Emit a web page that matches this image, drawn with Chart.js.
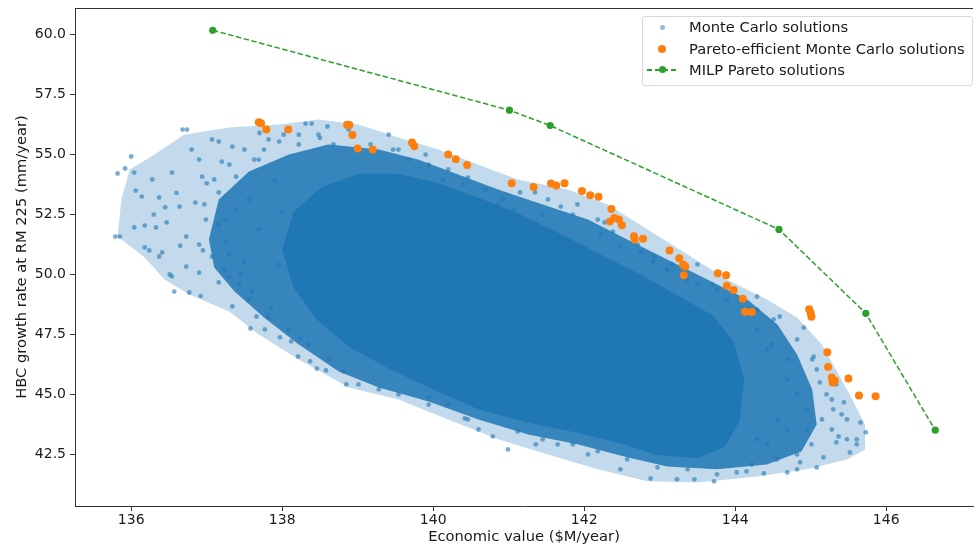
<!DOCTYPE html>
<html>
<head>
<meta charset="utf-8">
<script src="https://cdn.jsdelivr.net/npm/chart.js@4.4.1/dist/chart.umd.min.js"></script>
<style>
  html, body { margin: 0; padding: 0; background: #fff; overflow: hidden; }
  #wrap { position: relative; width: 977px; height: 549px; }
  #legend {
    position: absolute; left: 642px; top: 16px; width: 329px; height: 68px;
    border: 1px solid #d9d9d9; border-radius: 3px; background: rgba(255,255,255,0.8);
    font-family: "DejaVu Sans", sans-serif; font-size: 14.7px; color: #1a1a1a;
  }
  .row { position: absolute; left: 0; width: 100%; height: 20px; }
  .row .txt { position: absolute; left: 46px; top: 0; line-height: 20px; white-space: nowrap; }
  .mk { position: absolute; border-radius: 50%; }
  .dash {
    position: absolute; top: 9px; height: 1.6px;
    background: repeating-linear-gradient(to right, #2ca02c 0 5.5px, transparent 5.5px 8px);
  }
</style>
</head>
<body>
<div id="wrap">
  <canvas id="paretoChart" width="977" height="549"></canvas>
  <div id="legend"></div>
</div>
<script>
// Monte Carlo points that stand apart at the edge of the cloud
const mcX = [135.79, 135.85, 135.82, 135.92, 136.00, 136.68, 136.74, 136.06, 136.04, 136.14,
  136.04, 136.18, 136.24, 136.37, 136.54, 136.80, 137.07, 137.34, 136.28, 136.37,
  136.64, 136.47, 136.33, 136.73, 136.41, 136.54, 136.57, 136.77, 136.90, 136.73,
  137.07, 136.99, 137.16, 136.94, 136.90, 137.16, 137.39, 137.39, 137.26, 137.16,
  137.34, 136.92, 137.96, 138.39, 138.31, 138.60, 138.22, 136.51, 136.18, 137.63,
  137.76, 137.56, 137.69, 137.50, 137.82, 138.88, 139.17, 139.41, 139.54, 140.20,
  140.46, 140.69, 141.15, 141.35, 141.69, 141.91, 142.22, 142.27, 142.48, 142.75,
  142.93, 140.86, 141.45, 143.10, 143.36, 143.50, 143.70, 143.89, 144.29, 144.51,
  144.59, 144.91, 145.04, 145.12, 145.30, 145.37, 145.44, 145.66, 145.73, 145.52,
  145.34, 145.17, 145.08, 144.86, 144.69, 144.38, 144.02, 143.72, 143.46, 143.23,
  142.88, 142.48, 140.99, 140.79, 141.36, 140.42, 139.01, 138.85, 138.81, 138.58,
  138.46, 138.37, 138.21, 138.24, 138.12, 137.97, 137.77, 137.58, 137.66, 139.54,
  139.94, 141.65, 142.05, 144.15, 144.82, 145.61, 145.28, 145.02, 144.82, 144.69,
  144.56, 144.95, 144.42, 144.29, 145.48, 137.00, 137.25, 137.45, 137.60, 137.85,
  137.90, 138.00, 137.20, 138.50, 139.90, 136.60, 136.85, 136.45, 136.95, 137.30,
  137.95, 136.65, 137.70, 136.30,
  139.47, 139.67, 139.94, 140.13, 140.40, 140.93, 141.06, 141.52, 141.85, 142.18,
  142.38, 142.71, 142.91, 143.17, 143.50, 143.76, 144.09, 144.29,
  144.29, 144.49, 144.69, 144.82, 144.95, 145.15, 144.69, 144.42, 145.01, 145.28,
  145.48, 144.55, 144.22, 144.82, 145.41, 145.21, 145.08, 145.34, 145.61,
  140.20, 140.46, 141.12, 141.45, 141.85, 142.18, 142.57, 142.97, 143.37, 143.76,
  140.60, 139.94, 139.28,
  137.56, 137.82, 138.09, 138.35, 138.62, 137.43, 137.23,
  137.50, 137.69, 138.02, 138.48, 138.68, 138.22, 137.30, 137.10, 136.97, 137.16,
  136.90, 137.30];
const mcY = [51.58, 51.58, 54.21, 54.42, 54.92, 56.04, 56.04, 53.50, 54.25, 53.25,
  51.96, 51.13, 51.00, 50.75, 54.25, 55.21, 55.63, 55.33, 53.96, 53.21,
  52.83, 52.17, 51.96, 51.58, 50.92, 49.92, 49.29, 49.25, 50.08, 50.33,
  50.75, 52.29, 53.42, 54.08, 54.79, 55.54, 54.08, 52.71, 51.33, 49.67,
  48.67, 49.10, 55.54, 56.29, 56.29, 56.17, 55.83, 50.00, 52.04, 54.79,
  55.21, 53.13, 51.88, 50.54, 55.63, 56.04, 55.42, 55.83, 55.21, 54.38,
  54.04, 53.54, 53.42, 53.42, 52.83, 52.92, 51.67, 52.17, 51.17, 50.92,
  50.75, 52.92, 52.50, 50.21, 49.79, 50.42, 49.58, 48.96, 49.08, 48.13,
  48.25, 47.79, 46.58, 45.50, 44.38, 43.25, 44.67, 43.83, 43.42, 42.58,
  43.00, 42.38, 41.96, 42.17, 41.75, 41.71, 41.75, 41.38, 41.46, 41.46,
  41.50, 41.88, 42.71, 43.25, 42.92, 44.00, 45.42, 45.42, 45.96, 46.00,
  46.08, 46.38, 46.58, 47.33, 47.21, 47.38, 47.71, 47.75, 48.25, 45.00,
  44.58, 42.92, 42.50, 41.79, 41.88, 42.92, 44.79, 46.46, 47.29, 45.63,
  43.96, 43.54, 46.88, 43.13, 43.96, 53.80, 52.30, 50.00, 49.30, 48.60,
  53.90, 52.60, 54.70, 55.70, 55.00, 53.40, 53.00, 52.80, 51.00, 49.90,
  50.40, 51.20, 55.90, 52.50,
  55.21, 54.79, 54.58, 53.96, 53.75, 53.13, 52.71, 53.13, 52.50, 52.29,
  51.79, 51.25, 50.54, 50.42, 49.58, 49.38, 48.96, 48.54,
  47.71, 47.08, 46.46, 45.00, 44.38, 43.96, 43.54, 42.92, 42.92, 43.54,
  43.13, 42.29, 42.08, 42.50, 44.17, 45.00, 46.04, 45.42, 43.13,
  44.58, 43.96, 43.46, 43.13, 42.92, 42.63, 42.29, 41.96, 41.88, 41.67,
  43.54, 44.88, 45.21,
  48.96, 48.21, 47.71, 47.08, 46.46, 49.58, 50.21,
  55.21, 54.79, 55.83, 55.83, 55.42, 55.42, 54.58, 53.96, 52.92, 52.08,
  51.25, 50.83];

// outlines of the Monte Carlo cloud: sparse halo, busy body, solid core
const haloX = [135.82, 135.87, 135.98, 136.31, 136.70, 137.30, 137.96, 138.48, 139.01, 139.54,
  140.07, 140.60, 141.12, 141.78, 142.31, 142.84, 143.37, 143.89, 144.42, 144.82,
  145.15, 145.48, 145.72, 145.72, 145.48, 144.95, 144.29, 143.50, 142.84, 142.18,
  141.52, 140.86, 140.20, 139.54, 138.88, 138.22, 137.69, 137.30, 136.77, 136.44, 136.18];
const haloY = [51.58, 53.13, 54.38, 55.00, 55.83, 56.13, 56.25, 56.46, 56.25, 55.71,
  55.21, 54.58, 53.96, 53.54, 52.92, 51.88, 50.83, 49.79, 48.96, 48.21,
  47.08, 45.21, 43.75, 42.71, 42.29, 41.88, 41.58, 41.33, 41.38, 41.88,
  42.50, 43.13, 43.96, 44.79, 45.29, 46.46, 47.50, 48.46, 49.17, 49.79, 50.71];
const bodyX = [137.03, 137.16, 137.56, 138.09, 138.61, 139.28, 139.80, 140.33, 140.86, 141.45,
  142.05, 142.57, 143.10, 143.63, 144.16, 144.56, 144.82, 145.02, 145.08, 144.88,
  144.42, 143.76, 143.10, 142.57, 141.91, 141.26, 140.60, 139.94, 139.28, 138.75,
  138.22, 137.76, 137.37, 137.10];
const bodyY = [51.46, 53.13, 54.29, 55.00, 55.42, 55.21, 54.79, 54.17, 53.54, 52.92,
  52.29, 51.46, 50.63, 49.79, 48.96, 47.92, 46.67, 45.21, 43.75, 42.63,
  42.08, 41.88, 42.00, 42.38, 42.92, 43.33, 43.96, 44.71, 45.29, 45.96,
  47.08, 48.21, 49.29, 50.29];
const coreX = [138.00, 138.15, 138.50, 139.01, 139.54, 140.07, 140.60, 141.12, 141.65, 142.18,
  142.71, 143.23, 143.70, 143.98, 144.12, 144.06, 143.86, 143.50, 142.97, 142.44,
  141.91, 141.26, 140.60, 139.94, 139.41, 138.88, 138.45, 138.15];
const coreY = [51.04, 52.60, 53.60, 54.20, 54.20, 53.80, 53.20, 52.55, 51.75, 50.90,
  50.05, 49.15, 48.30, 47.20, 45.63, 43.90, 42.80, 42.35, 42.48, 43.00,
  43.40, 43.82, 44.38, 45.30, 46.08, 47.00, 48.15, 49.46];

const paretoX = [137.69, 137.72, 137.79, 138.08, 138.86, 138.89, 138.93, 139.00, 139.20, 139.72,
  139.75, 140.20, 140.30, 140.45, 141.04, 141.33, 141.56, 141.63, 141.74, 141.97,
  142.08, 142.19, 142.36, 142.34, 142.40, 142.46, 142.50, 142.66, 142.67, 142.78,
  143.13, 143.26, 143.31, 143.34, 143.32, 143.77, 143.88, 143.89, 143.98, 144.10,
  144.13, 144.22, 144.98, 145.00, 145.01, 145.22, 145.23, 145.28, 145.32, 145.29,
  145.50, 145.64, 145.86];
const paretoY = [56.35, 56.31, 56.04, 56.05, 56.24, 56.23, 55.82, 55.25, 55.21, 55.50,
  55.35, 55.00, 54.80, 54.57, 53.80, 53.65, 53.79, 53.71, 53.80, 53.48,
  53.30, 53.24, 52.73, 52.21, 52.36, 52.29, 52.05, 51.60, 51.46, 51.49,
  51.00, 50.68, 50.42, 50.33, 49.97, 50.05, 49.97, 49.53, 49.35, 48.99,
  48.45, 48.44, 48.55, 48.40, 48.24, 46.76, 46.14, 45.71, 45.58, 45.49,
  45.67, 44.96, 44.93];

const milpX = [137.08, 141.01, 141.55, 144.58, 145.73, 146.65];
const milpY = [60.18, 56.85, 56.21, 51.88, 48.38, 43.51];

const xTicks = [136, 138, 140, 142, 144, 146];
const yTicks = [42.5, 45.0, 47.5, 50.0, 52.5, 55.0, 57.5, 60.0];
const seriesNames = ['Monte Carlo solutions', 'Pareto-efficient Monte Carlo solutions', 'MILP Pareto solutions'];

const pts = (xs, ys) => xs.map((x, i) => ({ x: x, y: ys[i] }));
const blue = '#1f77b4', orange = '#ff7f0e', green = '#2ca02c';
const font = { family: 'DejaVu Sans', size: 14 };
const titleFont = { family: 'DejaVu Sans', size: 14.7 };

function cloud(xs, ys, color, order) {
  return {
    type: 'line', data: pts(xs, ys), fill: 'shape', backgroundColor: color,
    borderWidth: 0, pointRadius: 0, tension: 0, order: order
  };
}

// box line along the top like matplotlib's spine
const topSpine = {
  id: 'topSpine',
  afterDraw(chart) {
    const a = chart.chartArea, c = chart.ctx;
    c.save();
    c.strokeStyle = '#333';
    c.lineWidth = 1;
    c.beginPath();
    c.moveTo(a.left, a.top + 0.5);
    c.lineTo(a.right, a.top + 0.5);
    c.stroke();
    c.restore();
  }
};

new Chart(document.getElementById('paretoChart'), {
  type: 'scatter',
  data: {
    datasets: [
      cloud(haloX, haloY, 'rgba(31,119,180,0.27)', 7),
      cloud(bodyX, bodyY, 'rgba(31,119,180,0.86)', 6),
      cloud(coreX, coreY, blue, 5),
      {
        label: seriesNames[0], data: pts(mcX, mcY), order: 4,
        backgroundColor: 'rgba(31,119,180,0.6)', borderWidth: 0, pointRadius: 2.4
      },
      {
        label: seriesNames[1], data: pts(paretoX, paretoY), order: 2,
        backgroundColor: orange, borderWidth: 0, pointRadius: 4
      },
      {
        label: seriesNames[2], data: pts(milpX, milpY), order: 1, showLine: true,
        borderColor: green, borderWidth: 1.5, borderDash: [5.5, 2.5],
        backgroundColor: green, pointBorderWidth: 0, pointRadius: 3.6
      }
    ]
  },
  options: {
    responsive: false,
    animation: false,
    devicePixelRatio: 1,
    layout: { padding: { top: 8, left: 0, right: 0, bottom: 0 } },
    plugins: { legend: { display: false }, tooltip: { enabled: false } },
    scales: {
      x: {
        type: 'linear', min: 135.256, max: 147.15,
        afterFit: s => { s.height = 43; s.paddingLeft = 0; s.paddingRight = 0; },
        afterBuildTicks: s => { s.ticks = xTicks.map(v => ({ value: v })); },
        grid: { drawOnChartArea: false, tickLength: 5, tickColor: '#333' },
        border: { color: '#333', width: 1 },
        ticks: { font: font, color: '#1a1a1a', padding: 1, maxRotation: 0, callback: v => String(v) },
        title: { display: true, text: 'Economic value ($M/year)', font: titleFont, color: '#1a1a1a', padding: { top: 0, bottom: 3 } }
      },
      y: {
        type: 'linear', min: 40.35, max: 61.11,
        afterFit: s => { s.width = 75; s.paddingTop = 0; s.paddingBottom = 0; },
        afterBuildTicks: s => { s.ticks = yTicks.map(v => ({ value: v })); },
        grid: { drawOnChartArea: false, tickLength: 5, tickColor: '#333' },
        border: { color: '#333', width: 1 },
        ticks: { font: font, color: '#1a1a1a', padding: 4, callback: v => Number(v).toFixed(1) },
        title: { display: true, text: 'HBC growth rate at RM 225 (mm/year)', font: titleFont, color: '#1a1a1a', padding: { top: 13, bottom: 0 } }
      }
    }
  },
  plugins: [topSpine]
});

// legend drawn as html in the upper right corner
const legend = document.getElementById('legend');
const rowTops = [0, 22, 43];
seriesNames.forEach((name, i) => {
  const row = document.createElement('div');
  row.className = 'row';
  row.style.top = rowTops[i] + 'px';
  let mark = '';
  if (i === 0) mark = '<span class="mk" style="left:17px;top:8px;width:5px;height:5px;background:rgba(31,119,180,0.5)"></span>';
  if (i === 1) mark = '<span class="mk" style="left:15px;top:6px;width:8px;height:8px;background:' + orange + '"></span>';
  if (i === 2) mark = '<span class="dash" style="left:4px;width:30px"></span>' +
    '<span class="mk" style="left:15.5px;top:6px;width:7px;height:7px;background:' + green + '"></span>';
  row.innerHTML = mark + '<span class="txt">' + name + '</span>';
  legend.appendChild(row);
});
</script>
</body>
</html>
